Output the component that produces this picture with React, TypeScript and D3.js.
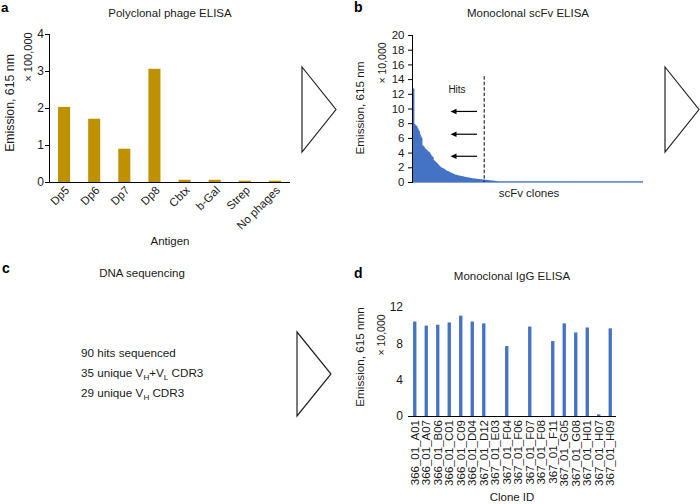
import React from "react";
import * as d3 from "d3";

const FONT = '"Liberation Sans", Arial, Helvetica, sans-serif';

// Panel a — polyclonal phage ELISA
const antigens = ["Dp5", "Dp6", "Dp7", "Dp8", "Cbtx", "b-Gal", "Strep", "No phages"];
const polyclonalValues = [2.03, 1.71, 0.9, 3.06, 0.06, 0.06, 0.035, 0.035];
const polyTicks = [0, 1, 2, 3, 4];

// Panel b — monoclonal scFv ELISA (sorted clone signals, ×10,000)
const scfvHits = [
  20, 12.8, 12.7, 7.9, 7.8, 7.7, 7.6, 7.3, 7.1, 6.9,
  6.5, 6.2, 6.0, 5.0, 4.9, 4.8, 4.6, 4.5, 4.4, 4.3,
  4.2, 4.1, 4.0, 3.8, 3.6, 3.5, 3.4, 3.0, 2.9, 2.8,
  2.7, 2.6, 2.5, 2.3, 2.2, 2.1, 2.0, 1.95, 1.9, 1.85,
  1.8, 1.7, 1.6, 1.55, 1.5, 1.45, 1.4, 1.35, 1.3, 1.25,
  1.2, 1.15, 1.1, 1.05, 1.0, 0.98, 0.95, 0.92, 0.9, 0.87,
  0.85, 0.82, 0.8, 0.78, 0.75, 0.72, 0.7, 0.68, 0.66, 0.64,
  0.62, 0.6, 0.58, 0.56, 0.54, 0.52, 0.5, 0.49, 0.48, 0.46,
  0.45, 0.44, 0.42, 0.4, 0.39, 0.38, 0.37, 0.36, 0.35, 0.34,
  0.33, 0.32, 0.31, 0.3, 0.28, 0.26, 0.25, 0.24, 0.23, 0.22,
  0.21, 0.2, 0.18, 0.16,
];
const scfvTail = [
  0.12, 0.12, 0.12, 0.11, 0.11, 0.11, 0.11, 0.11, 0.1, 0.1, 0.1, 0.1, 0.1, 0.1, 0.1, 0.1, 0.1, 0.1, 0.1, 0.1, 0.1, 0.1, 0.1,
  0.1, 0.1, 0.1, 0.1, 0.1, 0.1, 0.1, 0.1, 0.1, 0.1, 0.1, 0.1, 0.1, 0.1, 0.1, 0.1, 0.1, 0.1, 0.1, 0.1, 0.1, 0.1, 0.1,
  0.1, 0.1, 0.1, 0.1, 0.1, 0.1, 0.1, 0.1, 0.1, 0.1, 0.1, 0.1, 0.1, 0.1, 0.1, 0.1, 0.1, 0.1, 0.1, 0.1, 0.1, 0.1, 0.1,
  0.1, 0.1, 0.1, 0.1, 0.1, 0.1, 0.1, 0.1, 0.1, 0.1, 0.1, 0.1, 0.1, 0.1, 0.1, 0.1, 0.1, 0.1, 0.1, 0.1, 0.1, 0.1, 0.1,
  0.1, 0.1, 0.1, 0.1, 0.1, 0.1, 0.1, 0.1, 0.1, 0.1, 0.1, 0.1, 0.1, 0.1, 0.1, 0.1, 0.1, 0.1, 0.1, 0.1, 0.1, 0.1, 0.1,
  0.1, 0.1, 0.1, 0.1, 0.1, 0.1, 0.1, 0.1, 0.1, 0.1, 0.1, 0.1, 0.1, 0.1, 0.1, 0.1, 0.1, 0.1, 0.1, 0.1, 0.1, 0.1, 0.1,
  0.1, 0.1, 0.1, 0.1, 0.1, 0.1, 0.1, 0.1, 0.1, 0.1, 0.1, 0.1, 0.1, 0.1, 0.1, 0.1, 0.1, 0.1, 0.1, 0.1, 0.1, 0.1, 0.1,
  0.1, 0.1, 0.1, 0.1, 0.1, 0.1, 0.1, 0.1, 0.1, 0.1, 0.1, 0.1, 0.1, 0.1, 0.1, 0.1, 0.1, 0.1, 0.1, 0.1, 0.1, 0.1, 0.1,
];
const scfvValues = [...scfvHits, ...scfvTail];
const scfvTicks = [0, 2, 4, 6, 8, 10, 12, 14, 16, 18, 20];
const hitsCount = 90;
const hitArrowLevels = [9.6, 6.5, 3.5];

// Panel d — monoclonal IgG ELISA (×10,000)
const cloneIds = [
  "366_01_A01", "366_01_A07", "366_01_B06", "366_01_C01", "366_01_C09", "366_01_D04",
  "367_01_D12", "367_01_E03", "367_01_F04", "367_01_F06", "367_01_F07", "367_01_F08",
  "367_01_F11", "367_01_G05", "367_01_G08", "367_01_H01", "367_01_H07", "367_01_H09",
];
const iggValues = [10.4, 9.95, 10.05, 10.3, 11.05, 10.4, 10.2, 0, 7.7, 0, 9.85, 0, 8.25, 10.2, 9.2, 9.75, 0.18, 9.65];
const iggTicks = [0, 4, 8, 12];

const GOLD = "#bf9000";
const BLUE = "#4472c4";
const TXT = "#1a1a1a";

function Triangle({ x, y, w, h }: { x: number; y: number; w: number; h: number }) {
  return (
    <path
      d={`M${x},${y} L${x + w},${y + h / 2} L${x},${y + h} Z`}
      fill="#fff"
      stroke="#222"
      strokeWidth={1.2}
    />
  );
}

export default function App() {
  // Panel a scales
  const xA = d3.scaleBand<string>().domain(antigens).range([49, 290]).paddingInner(0.6).paddingOuter(0.3);
  const yA = d3.scaleLinear().domain([0, 4]).range([182, 34]);

  // Panel b scales
  const N = scfvValues.length;
  const xB = d3.scaleLinear().domain([0, N]).range([412, 643]);
  const yB = d3.scaleLinear().domain([0, 20]).range([182, 35]);
  const pts: [number, number][] = scfvValues.map((v, i) => [i, v] as [number, number]);
  pts.push([N, scfvValues[N - 1]]);
  const areaB = d3
    .area<[number, number]>()
    .x((d) => xB(d[0]))
    .y0(yB(0))
    .y1((d) => yB(d[1]))
    .curve(d3.curveStepAfter);

  // Panel d scales
  const xD = d3.scaleBand<string>().domain(cloneIds).range([409, 616]).paddingInner(0.71).paddingOuter(0.355);
  const yD = d3.scaleLinear().domain([0, 12]).range([416, 307]);

  const arrowX1 = xB(81);
  const arrowX2 = xB(48);
  const dashX = xB(hitsCount);

  return (
    <svg
      width={700}
      height={504}
      viewBox="0 0 700 504"
      style={{ position: "fixed", left: 0, top: 0, background: "#fff" }}
      fontFamily={FONT}
    >
      <rect x={0} y={0} width={700} height={504} fill="#fff" />

      {/* ===== Panel a ===== */}
      <text x={1} y={11.5} fontSize={13.5} fontWeight="bold" fill="#000">a</text>
      <text x={170} y={17} fontSize={11.5} textAnchor="middle" fill={TXT}>Polyclonal phage ELISA</text>
      {polyclonalValues.map((v, i) => (
        <rect
          key={antigens[i]}
          x={xA(antigens[i])!}
          y={yA(v)}
          width={xA.bandwidth()}
          height={yA(0) - yA(v)}
          fill={GOLD}
        />
      ))}
      <line x1={49} x2={290} y1={yA(0) + 0.5} y2={yA(0) + 0.5} stroke="#000" strokeWidth={1} />
      <line x1={49.5} x2={49.5} y1={yA(4)} y2={yA(0) + 1} stroke="#000" strokeWidth={1} />
      {polyTicks.map((t) => (
        <g key={t}>
          <line x1={45} x2={49.5} y1={yA(t) + 0.5} y2={yA(t) + 0.5} stroke="#000" />
          <text x={44} y={yA(t)} dy="0.36em" fontSize={12} textAnchor="end" fill={TXT}>{t}</text>
        </g>
      ))}
      {antigens.map((a) => (
        <text
          key={a}
          transform={`translate(${xA(a)! + xA.bandwidth() / 2 + 6},${191}) rotate(-45)`}
          fontSize={11.5}
          textAnchor="end"
          fill={TXT}
        >
          {a}
        </text>
      ))}
      <text x={170} y={245} fontSize={11.5} textAnchor="middle" fill={TXT}>Antigen</text>
      <text transform="translate(14,103) rotate(-90)" fontSize={12.3} textAnchor="middle" fill={TXT}>Emission, 615 nm</text>
      <text transform="translate(32,57) rotate(-90)" fontSize={11} textAnchor="middle" fill={TXT}>× 100,000</text>
      <Triangle x={302} y={67} w={34} h={85} />

      {/* ===== Panel b ===== */}
      <text x={354} y={12} fontSize={14} fontWeight="bold" fill="#000">b</text>
      <text x={528} y={17} fontSize={11.5} textAnchor="middle" fill={TXT}>Monoclonal scFv ELISA</text>
      <line x1={412} x2={643} y1={yB(0) + 0.5} y2={yB(0) + 0.5} stroke="#86a3da" strokeWidth={1} />
      <path d={areaB(pts) || ""} fill={BLUE} />
      <line x1={412.5} x2={412.5} y1={yB(20)} y2={yB(0) + 1} stroke="#000" strokeWidth={1} />
      {scfvTicks.map((t) => (
        <g key={t}>
          <line x1={408} x2={412.5} y1={yB(t) + 0.5} y2={yB(t) + 0.5} stroke="#000" />
          <text x={404.5} y={yB(t)} dy="0.36em" fontSize={11.5} textAnchor="end" fill={TXT}>{t}</text>
        </g>
      ))}
      <line x1={dashX} x2={dashX} y1={yB(14.4)} y2={yB(0)} stroke="#000" strokeWidth={1} strokeDasharray="3.5,2" />
      <text x={457} y={93} fontSize={10} textAnchor="middle" fill={TXT}>Hits</text>
      {hitArrowLevels.map((lv) => (
        <g key={lv}>
          <line x1={arrowX1} x2={arrowX2 + 5} y1={yB(lv)} y2={yB(lv)} stroke="#000" strokeWidth={1.2} />
          <path
            d={`M${arrowX2},${yB(lv)} L${arrowX2 + 6},${yB(lv) - 2.8} L${arrowX2 + 6},${yB(lv) + 2.8} Z`}
            fill="#000"
          />
        </g>
      ))}
      <text x={529} y={197} fontSize={11.5} textAnchor="middle" fill={TXT}>scFv clones</text>
      <text transform="translate(364,108) rotate(-90)" fontSize={11.7} textAnchor="middle" fill={TXT}>Emission, 615 nm</text>
      <text transform="translate(386,63) rotate(-90)" fontSize={10.5} textAnchor="middle" fill={TXT}>× 10,000</text>
      <Triangle x={665} y={67} w={34} h={85} />

      {/* ===== Panel c ===== */}
      <text x={2} y={273} fontSize={14} fontWeight="bold" fill="#000">c</text>
      <text x={142} y={277} fontSize={11.5} textAnchor="middle" fill={TXT}>DNA sequencing</text>
      <text x={81} y={357} fontSize={11.7} fill={TXT}>90 hits sequenced</text>
      <text x={81} y={377} fontSize={11.7} fill={TXT}>
        35 unique V<tspan dy={3} fontSize={8}>H</tspan>
        <tspan dy={-3}>+V</tspan>
        <tspan dy={3} fontSize={8}>L</tspan>
        <tspan dy={-3}> CDR3</tspan>
      </text>
      <text x={81} y={397} fontSize={11.7} fill={TXT}>
        29 unique V<tspan dy={3} fontSize={8}>H</tspan>
        <tspan dy={-3}> CDR3</tspan>
      </text>
      <Triangle x={297} y={332} w={34} h={84} />

      {/* ===== Panel d ===== */}
      <text x={354} y={278} fontSize={14} fontWeight="bold" fill="#000">d</text>
      <text x={512} y={280} fontSize={11.5} textAnchor="middle" fill={TXT}>Monoclonal IgG ELISA</text>
      {iggValues.map((v, i) => (
        <rect
          key={cloneIds[i]}
          x={xD(cloneIds[i])!}
          y={yD(v)}
          width={xD.bandwidth()}
          height={yD(0) - yD(v)}
          fill={BLUE}
        />
      ))}
      <line x1={408} x2={616} y1={yD(0) + 0.5} y2={yD(0) + 0.5} stroke="#000" strokeWidth={1} />
      {iggTicks.map((t) => (
        <text key={t} x={403} y={yD(t)} dy="0.36em" fontSize={12} textAnchor="end" fill={TXT}>{t}</text>
      ))}
      {cloneIds.map((c) => (
        <text
          key={c}
          transform={`translate(${xD(c)! + xD.bandwidth() / 2},${420}) rotate(-90)`}
          dy="0.36em"
          fontSize={11.5}
          textAnchor="end"
          fill={TXT}
        >
          {c}
        </text>
      ))}
      <text x={512} y={501} fontSize={11.5} textAnchor="middle" fill={TXT}>Clone ID</text>
      <text transform="translate(364,357) rotate(-90)" fontSize={11.7} textAnchor="middle" fill={TXT}>Emission, 615 nmn</text>
      <text transform="translate(385,335) rotate(-90)" fontSize={10.5} textAnchor="middle" fill={TXT}>× 10,000</text>
    </svg>
  );
}
